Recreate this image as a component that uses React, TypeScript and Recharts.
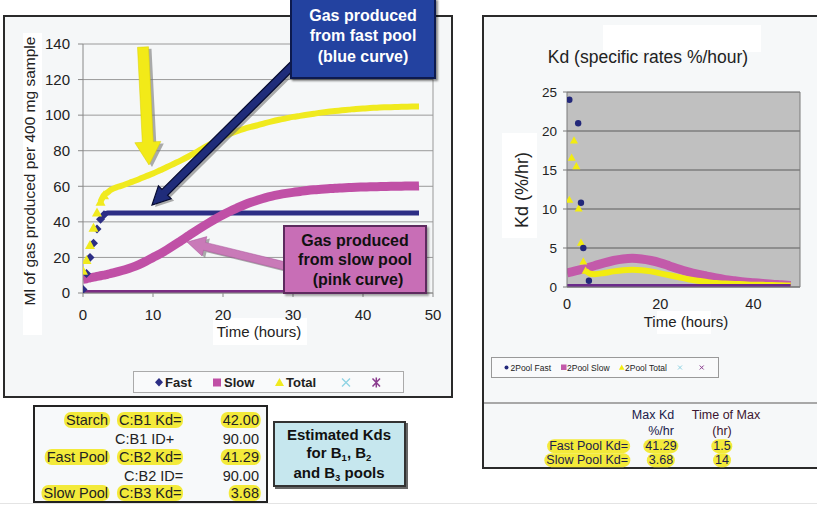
import React from "react";
import { CartesianGrid, ComposedChart, Line, ReferenceLine, XAxis, YAxis } from "recharts";

const FONT = "'Liberation Sans', Arial, sans-serif";

// ---- left chart: gas produced (ml per 400 mg sample) ----
const hours = [
  0, 0.5, 1, 1.5, 2, 2.5, 3, 3.5, 4, 5, 6, 7, 8, 9, 10, 11, 12, 13, 14, 15, 16, 17, 18, 19, 20, 21, 22, 23, 24,
  25, 26, 27, 28, 29, 30, 31, 32, 33, 34, 35, 36, 37, 38, 39, 40, 41, 42, 43, 44, 45, 46, 47, 48,
];
const fastGas = [
  2, 11, 20, 28, 36, 41.5, 44, 45, 45, 45, 45, 45, 45, 45, 45, 45, 45, 45, 45, 45, 45, 45, 45, 45, 45, 45, 45,
  45, 45, 45, 45, 45, 45, 45, 45, 45, 45, 45, 45, 45, 45, 45, 45, 45, 45, 45, 45, 45, 45, 45, 45, 45, 45,
];
const slowGas = [
  7.7, 8, 8.5, 8.9, 9.3, 9.7, 10.1, 10.5, 11, 12, 13.1, 14.4, 16, 17.9, 20, 22, 24.3, 26.8, 29.4, 32, 34.6,
  37.1, 39.5, 41.8, 44, 46, 47.8, 49.5, 51, 52.3, 53.5, 54.5, 55.3, 56, 56.6, 57.1, 57.6, 58, 58.3, 58.6, 58.9,
  59.1, 59.3, 59.5, 59.6, 59.7, 59.8, 59.9, 60, 60, 60.1, 60.1, 60.2,
];
const totalGas = [
  12.5, 18.5, 27, 36.7, 45.3, 51.3, 55, 56.5, 58, 59.7, 61, 62.5, 64, 65.6, 67.2, 69, 70.8, 72.7, 74.6, 76.6,
  78.8, 81, 83.3, 85.6, 87.8, 89.5, 91, 92.3, 93.4, 94.4, 95.5, 96.5, 97.4, 98.2, 99, 99.6, 100.2, 100.8,
  101.4, 101.9, 102.3, 102.7, 103.1, 103.5, 103.8, 104, 104.2, 104.4, 104.5, 104.6, 104.7, 104.8, 104.8,
];
const blankHours = [0, 48];
const blankGas = [0, 0];
const gasXTicks = [0, 10, 20, 30, 40, 50];
const gasYTicks = [0, 20, 40, 60, 80, 100, 120, 140];

// ---- right chart: Kd (%/hr) ----
const fastKdHours = [0.5, 2.4, 3, 3.5, 4.7];
const fastKd = [24, 21, 10.8, 5, 0.8];
const totalKdHours = [
  0.5, 1, 1.5, 2, 2.5, 3, 3.5, 4, 5, 6, 8, 10, 12, 14, 16, 18, 20, 22, 24, 26, 28, 30, 32, 34, 36, 38, 40, 42,
  44, 46, 48,
];
const totalKd = [
  11.2, 16.6, 18.8, 15.5, 10.1, 5.7, 3.3, 2.1, 1.7, 1.65, 1.8, 2.0, 2.15, 2.2, 2.15, 2.0, 1.75, 1.5, 1.25, 1.0,
  0.8, 0.65, 0.5, 0.45, 0.4, 0.35, 0.3, 0.28, 0.25, 0.22, 0.2,
];
const slowKdHours = [0, 2, 4, 6, 8, 10, 12, 14, 16, 18, 20, 22, 24, 26, 28, 30, 32, 34, 36, 38, 40, 42, 44, 46, 48];
const slowKd = [
  1.8, 2.1, 2.4, 2.75, 3.1, 3.4, 3.6, 3.68, 3.6, 3.4, 3.1, 2.7, 2.3, 1.95, 1.65, 1.4, 1.15, 0.95, 0.8, 0.65,
  0.55, 0.45, 0.35, 0.28, 0.2,
];
const kdXTicks = [0, 20, 40];
const kdYTicks = [0, 5, 10, 15, 20, 25];

const gasRows = hours.map((t, i) => ({ t, fast: fastGas[i], slow: slowGas[i], total: totalGas[i] }));
const pairs = (xs: number[], ys: number[]) => xs.map((t, i) => ({ t, v: ys[i] }));
const blankRows = pairs(blankHours, blankGas);
const fastKdRows = pairs(fastKdHours, fastKd);
const totalKdRows = pairs(totalKdHours, totalKd);
const slowKdRows = pairs(slowKdHours, slowKd);

const C = {
  fast: "#2c2e85",
  slow: "#c050a6",
  total: "#f0ea1e",
  blank: "#7a2c82",
  kdFast: "#23287a",
  kdSlow: "#c35aaa",
  kdTotal: "#f2ec10",
  kdBlank: "#6b2b8b",
};

const marker = (kind: "diamond" | "triangle" | "circle", color: string, r: number) => (props: any) => {
  const { cx, cy, index, value } = props;
  if (cx == null || cy == null || value == null) return <g key={`m${index}`} />;
  if (kind === "circle") return <circle key={`m${index}`} cx={cx} cy={cy} r={r} fill={color} />;
  const d =
    kind === "diamond"
      ? `M${cx},${cy - r}L${cx + r},${cy}L${cx},${cy + r}L${cx - r},${cy}Z`
      : `M${cx},${cy - r}L${cx + r},${cy + r * 0.8}L${cx - r},${cy + r * 0.8}Z`;
  return <path key={`m${index}`} d={d} fill={color} />;
};

// arrow polygon for the callouts
function arrow(x1: number, y1: number, x2: number, y2: number, shaft: number, head: number, headLen: number) {
  const len = Math.hypot(x2 - x1, y2 - y1);
  const ux = (x2 - x1) / len;
  const uy = (y2 - y1) / len;
  const nx = -uy;
  const ny = ux;
  const bx = x2 - ux * headLen;
  const by = y2 - uy * headLen;
  return [
    [x1 + nx * shaft, y1 + ny * shaft],
    [bx + nx * shaft, by + ny * shaft],
    [bx + nx * head, by + ny * head],
    [x2, y2],
    [bx - nx * head, by - ny * head],
    [bx - nx * shaft, by - ny * shaft],
    [x1 - nx * shaft, y1 - ny * shaft],
  ]
    .map((p) => p.map((n) => n.toFixed(1)).join(","))
    .join(" ");
}

const abs = (left: number, top: number, extra: React.CSSProperties = {}): React.CSSProperties => ({
  position: "absolute",
  left,
  top,
  ...extra,
});

function Txt({
  x,
  y,
  children,
  size = 14,
  align = "center",
  weight = 400,
  color = "#222",
  rotate = false,
}: {
  x: number;
  y: number;
  children: React.ReactNode;
  size?: number;
  align?: "left" | "center" | "right";
  weight?: number;
  color?: string;
  rotate?: boolean;
}) {
  const tx = align === "left" ? "0" : align === "right" ? "-100%" : "-50%";
  return (
    <div
      style={abs(x, y, {
        transform: `translate(${tx},-50%)${rotate ? " rotate(-90deg)" : ""}`,
        fontSize: size,
        fontWeight: weight,
        color,
        whiteSpace: "nowrap",
        lineHeight: 1.1,
      })}
    >
      {children}
    </div>
  );
}

const Hl = ({ children }: { children: React.ReactNode }) => (
  <span style={{ background: "#f3ea3a", borderRadius: 7, padding: "0 2px" }}>{children}</span>
);

const Sub = ({ children }: { children: React.ReactNode }) => (
  <span style={{ fontSize: 9.5, position: "relative", top: 3, lineHeight: 0 }}>{children}</span>
);

export default function App() {
  const tickStyle = { fontSize: 15, fill: "#222", fontFamily: FONT };
  const kdTick = { fontSize: 13.5, fill: "#222", fontFamily: FONT };
  return (
    <div style={abs(0, 0, { width: 817, height: 506, overflow: "hidden", background: "#fff", fontFamily: FONT })}>
      {/* left panel */}
      <div style={abs(3, 15, { width: 450, height: 383, border: "2px solid #2a2a2a", boxSizing: "border-box", background: "#f5f7f8" })} />
      <div style={abs(23, 33, { width: 19, height: 302, background: "#fff" })} />
      <div style={abs(213, 318, { width: 94, height: 27, background: "#fff" })} />
      <div style={abs(3, 15)}>
        <ComposedChart width={450} height={383} data={gasRows} margin={{ top: 29, right: 20, bottom: 75, left: 0 }}>
          <CartesianGrid vertical={false} stroke="#9a9a9a" />
          <XAxis
            dataKey="t"
            type="number"
            domain={[0, 50]}
            ticks={gasXTicks}
            height={30}
            tickSize={4}
            tickMargin={12}
            tick={tickStyle}
            axisLine={{ stroke: "#888" }}
            tickLine={{ stroke: "#888" }}
            allowDataOverflow
          />
          <YAxis
            type="number"
            domain={[0, 140]}
            ticks={gasYTicks}
            width={80}
            tickSize={5}
            tickMargin={8}
            tick={tickStyle}
            axisLine={{ stroke: "#888" }}
            tickLine={{ stroke: "#888" }}
            allowDataOverflow
          />
          <ReferenceLine x={50} stroke="#999" />
          <Line
            dataKey={(r: any) => (r.t >= 3 ? r.fast : null)}
            type="monotone"
            stroke={C.fast}
            strokeWidth={5}
            dot={false}
            activeDot={false}
            isAnimationActive={false}
          />
          <Line
            dataKey={(r: any) => (r.t <= 3 ? r.fast : null)}
            stroke="none"
            dot={marker("diamond", C.fast, 4.5)}
            activeDot={false}
            isAnimationActive={false}
          />
          <Line dataKey="slow" type="monotone" stroke={C.slow} strokeWidth={9} dot={false} activeDot={false} isAnimationActive={false} />
          <Line
            dataKey={(r: any) => (r.t >= 2.5 ? r.total : null)}
            type="monotone"
            stroke={C.total}
            strokeWidth={6}
            dot={false}
            activeDot={false}
            isAnimationActive={false}
          />
          <Line
            dataKey={(r: any) => (r.t <= 3 ? r.total : null)}
            stroke="none"
            dot={marker("triangle", C.total, 5)}
            activeDot={false}
            isAnimationActive={false}
          />
          <Line data={blankRows} dataKey="v" stroke={C.blank} strokeWidth={6} dot={false} activeDot={false} isAnimationActive={false} />
        </ComposedChart>
      </div>
      <Txt x={30} y={171} size={15.5} rotate>
        Ml of gas produced per 400 mg sample
      </Txt>
      <Txt x={259} y={332} size={15}>
        Time (hours)
      </Txt>

      {/* left legend */}
      <svg style={abs(133, 371)} width={272} height={23} fontFamily={FONT}>
        <rect x={0.5} y={0.5} width={270} height={21} fill="#f9fafb" stroke="#aaa" />
        <path d="M26,7L30,11.3L26,15.6L22,11.3Z" fill={C.fast} />
        <text x={32} y={16} fontSize={13} fontWeight={700} fill="#222">Fast</text>
        <rect x={80} y={7.5} width={8} height={8} fill={C.slow} />
        <text x={91} y={16} fontSize={13} fontWeight={700} fill="#222">Slow</text>
        <path d="M146.5,7L151,15L142,15Z" fill={C.total} />
        <text x={153} y={16} fontSize={13} fontWeight={700} fill="#222">Total</text>
        <path d="M209,7.5L217,15.5M217,7.5L209,15.5" stroke="#8fd3e3" strokeWidth={1.3} />
        <path d="M239.5,7.5L247,15.5M247,7.5L239.5,15.5M243.3,6.5L243.3,16.5" stroke="#8a3b8e" strokeWidth={1.5} />
      </svg>

      {/* callouts */}
      <svg style={abs(0, 0)} width={817} height={506} pointerEvents="none">
        <g transform="translate(3,2)" fill="#777" opacity={0.6}>
          <polygon points={arrow(143, 47, 149, 165, 5.5, 13, 23)} />
          <polygon points={arrow(294, 64, 152, 205, 4, 9, 18)} />
          <polygon points={arrow(285, 266, 187, 242, 4, 10, 18)} />
        </g>
        <polygon points={arrow(143, 47, 149, 165, 5.5, 13, 23)} fill="#f2ea18" stroke="#d8cf00" strokeWidth={0.5} />
        <polygon points={arrow(294, 64, 152, 205, 4, 9, 18)} fill="#1f2c7a" stroke="#050a30" strokeWidth={1.2} />
        <polygon points={arrow(285, 266, 187, 242, 4, 10, 18)} fill="#c97ab8" stroke="#a9579a" strokeWidth={0.5} />
      </svg>
      <div
        style={abs(290, -2, {
          width: 146,
          height: 81,
          boxSizing: "border-box",
          background: "#2342a0",
          border: "2px solid #0d1a4f",
          boxShadow: "2px 2px 2px rgba(0,0,0,0.45)",
        })}
      />
      <Txt x={363} y={16} size={16} weight={700} color="#fff">Gas produced</Txt>
      <Txt x={363} y={36} size={16} weight={700} color="#fff">from fast pool</Txt>
      <Txt x={363} y={57} size={16} weight={700} color="#fff">(blue curve)</Txt>
      <div
        style={abs(283, 225, {
          width: 144,
          height: 69,
          boxSizing: "border-box",
          background: "#c86eb6",
          border: "2px solid #5d2a5e",
          boxShadow: "2px 2px 2px rgba(0,0,0,0.35)",
        })}
      />
      <Txt x={355} y={241} size={16} weight={700} color="#111">Gas produced</Txt>
      <Txt x={355} y={260} size={16} weight={700} color="#111">from slow pool</Txt>
      <Txt x={358} y={280} size={16} weight={700} color="#111">(pink curve)</Txt>

      {/* bottom-left Kd table */}
      <div style={abs(33, 405, { width: 235, height: 98, border: "2px solid #222", boxSizing: "border-box", background: "#f7f9fa" })} />
      <Txt x={110} y={421} size={14.5} align="right"><Hl>Starch</Hl></Txt>
      <Txt x={117} y={421} size={14.5} align="left"><Hl>C:B1 Kd=</Hl></Txt>
      <Txt x={261} y={421} size={14.5} align="right"><Hl>42.00</Hl></Txt>
      <Txt x={115} y={440} size={14.5} align="left">C:B1 ID+</Txt>
      <Txt x={259} y={440} size={14.5} align="right">90.00</Txt>
      <Txt x={110} y={458} size={14.5} align="right"><Hl>Fast Pool</Hl></Txt>
      <Txt x={117} y={458} size={14.5} align="left"><Hl>C:B2 Kd=</Hl></Txt>
      <Txt x={261} y={458} size={14.5} align="right"><Hl>41.29</Hl></Txt>
      <Txt x={124} y={477} size={14.5} align="left">C:B2 ID=</Txt>
      <Txt x={259} y={477} size={14.5} align="right">90.00</Txt>
      <Txt x={110} y={494} size={14.5} align="right"><Hl>Slow Pool</Hl></Txt>
      <Txt x={117} y={494} size={14.5} align="left"><Hl>C:B3 Kd=</Hl></Txt>
      <Txt x={261} y={494} size={14.5} align="right"><Hl>3.68</Hl></Txt>

      <div
        style={abs(273, 421, {
          width: 133,
          height: 66,
          boxSizing: "border-box",
          background: "#c6e7ee",
          border: "2px solid #333",
          boxShadow: "2px 2px 0 #666",
        })}
      />
      <Txt x={339} y={435} size={15} weight={700} color="#111">Estimated Kds</Txt>
      <Txt x={339} y={453} size={15} weight={700} color="#111">
        for B<Sub>1</Sub>, B<Sub>2</Sub>
      </Txt>
      <Txt x={339} y={473} size={15} weight={700} color="#111">
        and B<Sub>3</Sub> pools
      </Txt>

      {/* right panel */}
      <div style={abs(482, 15, { width: 345, height: 454, border: "2px solid #2a2a2a", boxSizing: "border-box", background: "#f6f8f9" })} />
      <div style={abs(484, 402, { width: 340, height: 2, background: "#a8a8a8" })} />
      <div style={abs(603, 25, { width: 158, height: 27, background: "#fff" })} />
      <div style={abs(502, 133, { width: 35, height: 105, background: "#fff" })} />
      <div style={abs(657, 311, { width: 54, height: 23, background: "#fff" })} />
      <Txt x={648} y={58} size={17.5}>Kd (specific rates %/hour)</Txt>
      <div style={abs(482, 15)}>
        <ComposedChart width={335} height={330} margin={{ top: 77, right: 17, bottom: 28, left: 0 }}>
          <CartesianGrid vertical={false} stroke="#5c5c5c" fill="#c0c0c0" />
          <XAxis
            dataKey="t"
            type="number"
            domain={[0, 50]}
            ticks={kdXTicks}
            height={30}
            tickSize={4}
            tickMargin={8}
            tick={{ ...kdTick, fontSize: 14.5 }}
            axisLine={{ stroke: "#7a7a7a" }}
            tickLine={false}
            allowDataOverflow
          />
          <YAxis
            type="number"
            domain={[0, 25]}
            ticks={kdYTicks}
            width={85}
            tickSize={4}
            tickMargin={6}
            tick={kdTick}
            axisLine={{ stroke: "#7a7a7a" }}
            tickLine={{ stroke: "#7a7a7a" }}
            allowDataOverflow
          />
          <ReferenceLine x={50} stroke="#7a7a7a" />
          <Line data={slowKdRows} dataKey="v" type="monotone" stroke={C.kdSlow} strokeWidth={9} dot={false} activeDot={false} isAnimationActive={false} />
          <Line
            data={totalKdRows}
            dataKey={(r: any) => (r.t >= 4 ? r.v : null)}
            type="monotone"
            stroke={C.kdTotal}
            strokeWidth={6}
            dot={false}
            activeDot={false}
            isAnimationActive={false}
          />
          <Line
            data={totalKdRows}
            dataKey={(r: any) => (r.t <= 4 ? r.v : null)}
            stroke="none"
            dot={marker("triangle", C.kdTotal, 4)}
            activeDot={false}
            isAnimationActive={false}
          />
          <Line data={blankRows} dataKey="v" stroke={C.kdBlank} strokeWidth={6} dot={false} activeDot={false} isAnimationActive={false} />
          <Line data={fastKdRows} dataKey="v" stroke="none" dot={marker("circle", C.kdFast, 3.2)} activeDot={false} isAnimationActive={false} />
        </ComposedChart>
      </div>
      <Txt x={523} y={190} size={18} rotate>Kd (%/hr)</Txt>
      <Txt x={686} y={322} size={15}>Time (hours)</Txt>

      {/* right legend */}
      <svg style={abs(491, 357)} width={229} height={22} fontFamily={FONT}>
        <rect x={0.5} y={0.5} width={227} height={20} fill="#f9fafb" stroke="#999" />
        <circle cx={15.5} cy={10.5} r={2} fill={C.kdFast} />
        <text x={19.5} y={13.5} fontSize={8.5} fill="#222">2Pool Fast</text>
        <rect x={70} y={7.5} width={5.5} height={5.5} fill={C.kdSlow} />
        <text x={76} y={13.5} fontSize={8.5} fill="#222">2Pool Slow</text>
        <path d="M130.7,7.5L133.5,12.8L127.9,12.8Z" fill={C.kdTotal} />
        <text x={134} y={13.5} fontSize={8.5} fill="#222">2Pool Total</text>
        <path d="M187,8.5L191,12.5M191,8.5L187,12.5" stroke="#8fd3e3" strokeWidth={1} />
        <path d="M208.7,8.5L212.7,12.5M212.7,8.5L208.7,12.5" stroke="#8a3b8e" strokeWidth={1} />
      </svg>

      {/* right stats */}
      <Txt x={653} y={416} size={12.5} color="#20204a">Max Kd</Txt>
      <Txt x={726} y={416} size={12.5} color="#3c1530">Time of Max</Txt>
      <Txt x={661} y={432} size={12.5} color="#20204a">%/hr</Txt>
      <Txt x={722} y={432} size={12.5} color="#3c1530">(hr)</Txt>
      <Txt x={630} y={447} size={12.5} align="right" color="#20204a"><Hl>Fast Pool Kd=</Hl></Txt>
      <Txt x={661} y={447} size={12.5} color="#20204a"><Hl>41.29</Hl></Txt>
      <Txt x={722} y={447} size={12.5} color="#20204a"><Hl>1.5</Hl></Txt>
      <Txt x={630} y={461} size={12.5} align="right" color="#20204a"><Hl>Slow Pool Kd=</Hl></Txt>
      <Txt x={661} y={461} size={12.5} color="#20204a"><Hl>3.68</Hl></Txt>
      <Txt x={722} y={461} size={12.5} color="#20204a"><Hl>14</Hl></Txt>

      <div style={abs(0, 503, { width: 817, height: 1, background: "#e4e4e4" })} />
    </div>
  );
}
